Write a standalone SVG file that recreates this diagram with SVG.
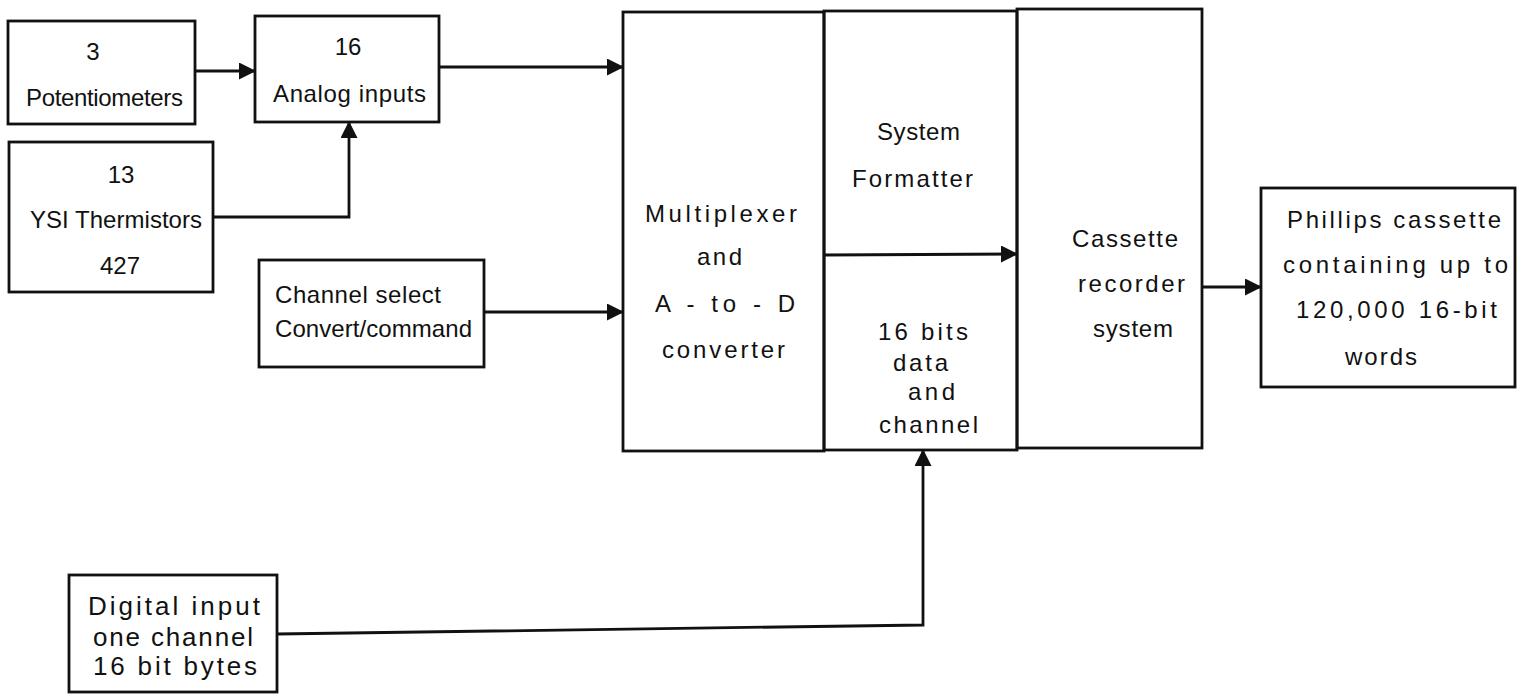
<svg xmlns="http://www.w3.org/2000/svg" width="1517" height="694" viewBox="0 0 1517 694">
<style>
.box{fill:none;stroke:#111;stroke-width:2.8}
.ln{fill:none;stroke:#111;stroke-width:2.8}
text{font-family:"Liberation Sans",Arial,sans-serif;font-size:24px;fill:#111}
.c{text-anchor:middle}
.sm{font-size:26px}
</style>
<defs>
<marker id="ah" markerUnits="userSpaceOnUse" markerWidth="18" markerHeight="18" refX="16" refY="8.5" orient="auto">
<path d="M0,0 L17,8.5 L0,17 Z" fill="#111"/>
</marker>
</defs>
<rect width="1517" height="694" fill="#fff"/>
<g id="potentiometers">
<rect class="box" x="8" y="21" width="187" height="103"/>
<text class="c" x="93" y="60">3</text>
<text x="26" y="106" textLength="157">Potentiometers</text>
</g>
<g id="analog-inputs">
<rect class="box" x="255" y="16" width="184" height="106"/>
<text class="c" x="348" y="55">16</text>
<text x="273" y="102" textLength="153">Analog  inputs</text>
</g>
<g id="thermistors">
<rect class="box" x="9" y="142" width="204" height="150"/>
<text class="c" x="121" y="183">13</text>
<text x="30" y="228" textLength="172">YSI Thermistors</text>
<text class="c" x="120" y="274">427</text>
</g>
<g id="channel-select">
<rect class="box" x="259" y="260" width="225" height="107"/>
<text x="275" y="303" textLength="166">Channel  select</text>
<text x="275" y="337" textLength="197">Convert/command</text>
</g>
<g id="multiplexer">
<rect class="box" x="623" y="12" width="201" height="439"/>
<text x="645" y="222" textLength="152">Multiplexer</text>
<text x="697" y="265" textLength="45">and</text>
<text x="655" y="312" textLength="140">A - to - D</text>
<text x="662" y="358" textLength="123">converter</text>
</g>
<g id="system-formatter">
<rect class="box" x="824" y="11" width="193" height="439"/>
<text x="877" y="140" textLength="83">System</text>
<text x="852" y="187" textLength="121">Formatter</text>
<text x="878" y="340" textLength="90">16 bits</text>
<text x="893" y="371" textLength="55">data</text>
<text x="908" y="400" textLength="47">and</text>
<text x="879" y="433" textLength="99">channel</text>
</g>
<g id="cassette-recorder">
<rect class="box" x="1017" y="9" width="185" height="439"/>
<text x="1072" y="247" textLength="106">Cassette</text>
<text x="1078" y="292" textLength="107">recorder</text>
<text x="1093" y="337" textLength="80">system</text>
</g>
<g id="phillips-cassette">
<rect class="box" x="1261" y="188" width="254" height="199"/>
<text x="1287" y="228" textLength="214">Phillips  cassette</text>
<text x="1283" y="273" textLength="225">containing  up  to</text>
<text x="1296" y="318" textLength="201">120,000  16-bit</text>
<text x="1345" y="365" textLength="72">words</text>
</g>
<g id="digital-input">
<rect class="box" x="69" y="575" width="208" height="117"/>
<text class="sm" x="88" y="615" textLength="172">Digital  input</text>
<text class="sm" x="93" y="646" textLength="160">one  channel</text>
<text class="sm" x="93" y="675" textLength="164">16  bit  bytes</text>
</g>
<g id="connectors">
<line class="ln" x1="195" y1="71" x2="255" y2="71" marker-end="url(#ah)"/>
<line class="ln" x1="439" y1="67" x2="623" y2="67" marker-end="url(#ah)"/>
<polyline class="ln" points="213,217 349,217 349,122" marker-end="url(#ah)"/>
<line class="ln" x1="484" y1="312" x2="623" y2="312" marker-end="url(#ah)"/>
<line class="ln" x1="824" y1="255" x2="1017" y2="254" marker-end="url(#ah)"/>
<line class="ln" x1="1202" y1="287" x2="1261" y2="287" marker-end="url(#ah)"/>
<polyline class="ln" points="277,634 923,625 923,450" marker-end="url(#ah)"/>
</g>
</svg>
